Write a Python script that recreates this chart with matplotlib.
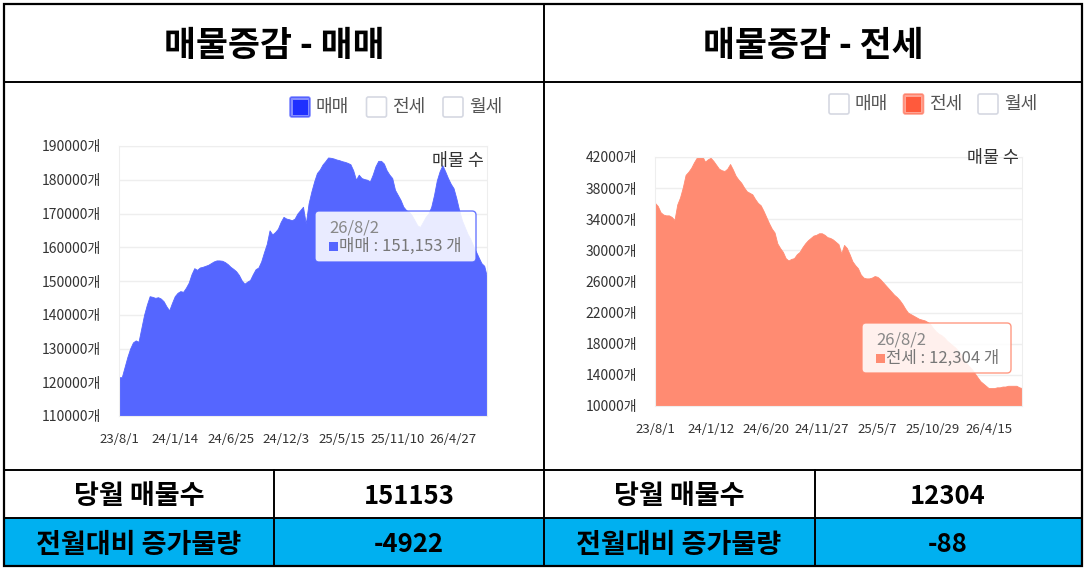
import numpy as np
import matplotlib.pyplot as plt
from matplotlib.patches import Rectangle, FancyBboxPatch

plt.rcParams['font.family'] = ['Noto Sans CJK KR', 'DejaVu Sans']

# %%
# data

legend_names = ['매매', '전세', '월세']

sale_labels = ['23/8/1', '24/1/14', '24/6/25', '24/12/3', '25/5/15', '25/11/10', '26/4/27']
jeonse_labels = ['23/8/1', '24/1/12', '24/6/20', '24/11/27', '25/5/7', '25/10/29', '26/4/15']
label_step = 20
last_date = '26/8/2'

sale = [121500, 121500, 124500, 127500, 130000, 131800, 132400, 132000, 136000, 140000,
        143000, 145500, 145300, 145000, 145200, 144800, 144000, 142500, 141300, 143500,
        145500, 146500, 147000, 146800, 148000, 149500, 152000, 153800, 153300, 154000,
        154200, 154500, 154800, 155300, 155800, 156100, 156100, 156000, 155600, 155000,
        154200, 153600, 152900, 151800, 150200, 149200, 149800, 150300, 152000, 153500,
        154000, 155800, 158500, 161000, 165000, 163800, 164500, 165500, 167500, 169000,
        168500, 168300, 168000, 168500, 170000, 171000, 172000, 167000, 173000, 176500,
        179500, 182000, 183000, 184500, 185500, 186600, 186500, 186300, 186000, 185800,
        185500, 185300, 185000, 184600, 182800, 180000, 181500, 180500, 180200, 180000,
        179500, 181500, 184000, 185600, 185600, 184800, 182800, 181500, 180500, 177000,
        175500, 174000, 172000, 171000, 170500, 169500, 168000, 166500, 166000, 167500,
        169000, 170000, 172000, 175500, 179800, 182500, 184300, 182500, 180500, 178800,
        177500, 174500, 171000, 168000, 166000, 164000, 162500, 160500, 158800, 157000,
        155300, 154500, 151153]

jeonse = [36100, 35700, 34900, 34600, 34500, 34500, 34300, 33900, 35900, 36800,
          38100, 39700, 40100, 40600, 41300, 41900, 42300, 42100, 41400, 41700,
          41900, 41500, 41000, 40500, 40300, 40200, 40500, 41100, 40400, 39600,
          39100, 38700, 38100, 37600, 37400, 37200, 36600, 36100, 35800, 35100,
          34300, 33500, 32800, 32300, 30900, 30300, 29800, 29000, 28700, 28900,
          29000, 29500, 29800, 30400, 30900, 31300, 31600, 31900, 32000, 32200,
          32200, 32000, 31700, 31600, 31400, 31100, 30800, 29600, 30700, 30300,
          29500, 28600, 28100, 27700, 26900, 26500, 26400, 26400, 26500, 26700,
          26600, 26300, 25900, 25500, 25100, 24700, 24300, 24000, 23600, 23100,
          22500, 22000, 21800, 21600, 21400, 21200, 21100, 21000, 20800, 20500,
          20000, 19600, 19300, 19100, 18800, 18400, 18100, 17800, 17500, 17100,
          16600, 16000, 15500, 15100, 14700, 14200, 13700, 13200, 12900, 12600,
          12300, 12300, 12300, 12400, 12400, 12500, 12500, 12600, 12600, 12600,
          12600, 12400, 12304]

sale_now, sale_diff = 151153, -4922
jeonse_now, jeonse_diff = 12304, -88

SALE_FILL = '#5566ff'
SALE_MARK = '#1f30ff'
JEONSE_FILL = '#ff8b72'
JEONSE_MARK = '#ff5a3c'

W, H = 1088, 569
fig = plt.figure(figsize=(W / 100, H / 100), dpi=100)


def px_axes(x0, y0, x1, y1):
    return fig.add_axes([x0 / W, 1 - y1 / H, (x1 - x0) / W, (y1 - y0) / H])


def draw_chart(ax, values, lo, hi, step, labels, color):
    x = np.arange(len(values))
    ax.fill_between(x, values, lo, color=color, lw=0.6, edgecolor=color)
    ax.set_xlim(0, len(values) - 1)
    ax.set_ylim(lo, hi)
    ticks = np.arange(lo, hi + 1, step)
    ax.set_yticks(ticks)
    ax.set_yticklabels([f'{t}개' for t in ticks], fontsize=10, color='#333333')
    ax.set_xticks(x[::label_step][:len(labels)])
    ax.set_xticklabels(labels, fontsize=9.5, color='#333333')
    ax.tick_params(length=0)
    ax.tick_params(axis='y', pad=13)
    ax.tick_params(axis='x', pad=12)
    ax.grid(axis='y', color='#eeeeee', lw=1)
    ax.set_axisbelow(True)
    for s in ax.spines.values():
        s.set_color('#eeeeee')


ax1 = px_axes(119, 146, 487, 416)
draw_chart(ax1, sale, 110000, 190000, 10000, sale_labels, SALE_FILL)

ax2 = px_axes(655, 157, 1022, 406)
draw_chart(ax2, jeonse, 10000, 42000, 4000, jeonse_labels, JEONSE_FILL)

# overlay in pixel coords
ov = fig.add_axes([0, 0, 1, 1], zorder=10)
ov.set_xlim(0, W)
ov.set_ylim(H, 0)
ov.axis('off')

# legends
def draw_legend(x0, y0, gap, active, mark):
    for i, name in enumerate(legend_names):
        bx = x0 + i * gap
        if i == active:
            ov.add_patch(FancyBboxPatch((bx, y0), 20, 20, boxstyle='round,pad=0,rounding_size=2',
                                        fc=mark, ec=mark, lw=1.2, alpha=0.55))
            ov.add_patch(Rectangle((bx + 2.5, y0 + 2.5), 15, 15, fc=mark, ec='none'))
        else:
            ov.add_patch(FancyBboxPatch((bx, y0), 20, 20, boxstyle='round,pad=0,rounding_size=2',
                                        fc='white', ec='#d5d8e2', lw=1.2))
        ov.text(bx + 26, y0 + 10, name, fontsize=13, color='#555555', va='center', ha='left')


draw_legend(290, 97, 76.5, 0, SALE_MARK)
draw_legend(829, 94, 74.5, 1, JEONSE_MARK)

ov.text(484, 161, '매물 수', fontsize=12.5, color='#333333', ha='right', va='center')
ov.text(1019, 158, '매물 수', fontsize=12.5, color='#333333', ha='right', va='center')

# tooltips
def draw_tip(x0, y0, x1, y1, color, name, value):
    ov.add_patch(FancyBboxPatch((x0, y0), x1 - x0, y1 - y0, boxstyle='round,pad=0,rounding_size=4',
                                fc='white', ec=color, lw=1, alpha=0.88))
    ov.text(x0 + 14, y0 + 17, last_date, fontsize=12, color='#888888', va='center')
    ov.add_patch(Rectangle((x0 + 14, y0 + 31), 9, 9, fc=color, ec='none'))
    ov.text(x0 + 24, y0 + 35, f'{name} : {value:,} 개', fontsize=12, color='#777777', va='center')


draw_tip(315, 211, 476, 262, SALE_FILL, legend_names[0], sale_now)
draw_tip(862, 323, 1011, 373, JEONSE_FILL, legend_names[1], jeonse_now)

# frame / table
ov.add_patch(Rectangle((4, 518), 1078, 48, fc='#00b0f0', ec='none'))
ov.add_patch(Rectangle((4, 4), 1078, 562, fc='none', ec='black', lw=1.6))
for y in [82, 470, 518]:
    ov.plot([4, 1082], [y, y], color='black', lw=1.4)
ov.plot([544, 544], [4, 566], color='black', lw=1.4)
for x in [274, 815]:
    ov.plot([x, x], [470, 566], color='black', lw=1.4)

ov.text(274, 45, '매물증감 - ' + legend_names[0], fontsize=25, fontweight='bold', ha='center', va='center')
ov.text(813, 45, '매물증감 - ' + legend_names[1], fontsize=25, fontweight='bold', ha='center', va='center')

rows = [
    (139, 409, sale_now, sale_diff),
    (679, 948, jeonse_now, jeonse_diff),
]
for lx, vx, now, diff in rows:
    ov.text(lx, 496, '당월 매물수', fontsize=19.5, fontweight='bold', ha='center', va='center')
    ov.text(vx, 496, str(now), fontsize=18.5, fontweight='bold', ha='center', va='center')
    ov.text(lx, 545, '전월대비 증가물량', fontsize=19.5, fontweight='bold', ha='center', va='center')
    ov.text(vx, 545, str(diff), fontsize=18.5, fontweight='bold', ha='center', va='center')

fig.savefig('out.png', dpi=100)
